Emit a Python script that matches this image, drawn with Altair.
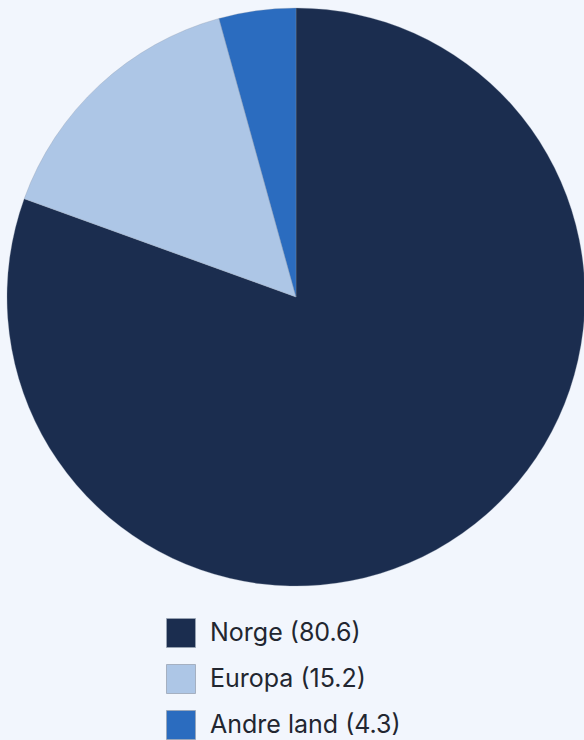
import altair as alt
import pandas as pd

categories = ["Norge (80.6)", "Europa (15.2)", "Andre land (4.3)"]
values = [80.6, 15.2, 4.3]
colors = ["#1b2d4f", "#adc6e6", "#2b6cbf"]

df = pd.DataFrame({"cat": categories, "val": values, "ord": [0, 1, 2]})

chart = alt.Chart(df).mark_arc(outerRadius=289, stroke="#8a96a8", strokeWidth=0.3).encode(
    theta=alt.Theta("val:Q", stack=True),
    order=alt.Order("ord:Q"),
    x=alt.value(296),
    y=alt.value(297),
    color=alt.Color(
        "cat:N",
        sort=categories,
        scale=alt.Scale(domain=categories, range=colors),
        legend=alt.Legend(
            title=None,
            orient="none",
            legendX=166,
            legendY=618,
            symbolType="square",
            symbolSize=841,
            symbolStrokeColor="#9aa4b4",
            symbolStrokeWidth=0.8,
            labelFontSize=25,
            labelFont="Inter",
            labelColor="#222630",
            labelOffset=14,
            rowPadding=12,
            labelLimit=400,
        ),
    ),
).properties(
    width=584, height=740, autosize=alt.AutoSizeParams(type="none"), padding=0,
    background="#f2f6fd"
).configure_view(stroke=None)

chart.save("out.html", embed_options={"renderer": "svg", "actions": False})
